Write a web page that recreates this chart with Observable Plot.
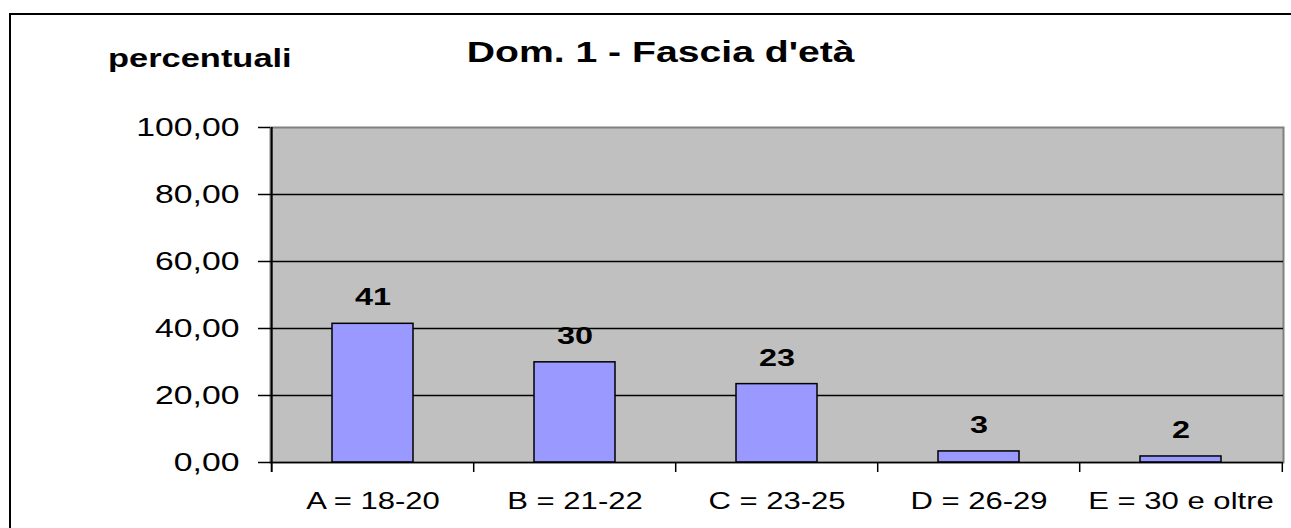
<!DOCTYPE html>
<html><head><meta charset="utf-8">
<script src="https://cdn.jsdelivr.net/npm/d3@7"></script>
<script src="https://cdn.jsdelivr.net/npm/@observablehq/plot@0.6"></script>
<style>
html,body{margin:0;padding:0;background:#fff;}
#wrap{position:relative;width:1291px;height:528px;overflow:hidden;font-family:"Liberation Sans",Arial,sans-serif;}
#frame{position:absolute;left:9px;top:13px;width:1400px;height:700px;border:2px solid #000;box-sizing:border-box;pointer-events:none;}
#chart{position:absolute;left:0;top:0;}
.t{position:absolute;line-height:1;white-space:nowrap;font-weight:bold;color:#000;}
</style></head><body>
<div id="wrap">
 <div id="chart"></div>
 <div id="frame"></div>
 <div class="t" id="title" style="left:0;width:1321px;top:38px;font-size:29px;text-align:center"><span style="display:inline-block;transform:scaleX(1.35);transform-origin:center">Dom. 1 - Fascia d'età</span></div>
 <div class="t" id="ylab" style="left:108px;top:46px;font-size:25.5px;transform:scaleX(1.35);transform-origin:left center">percentuali</div>
</div>
<script>
const categories = ["A = 18-20", "B = 21-22", "C = 23-25", "D = 26-29", "E = 30 e oltre"];
const percentages = [41.4, 29.9, 23.4, 3.3, 1.8];
const valueLabels = percentages.map(v => String(Math.round(v)));
const yTicks = [0, 20, 40, 60, 80, 100];
const gridValues = [20, 40, 60, 80];
const data = categories.map((c, i) => ({category: c, value: percentages[i], label: valueLabels[i]}));

const W = 1291, H = 528, mL = 270, mR = 8, mT = 127, mB = 66;
const step = (W - mL - mR) / categories.length;
const fmt = d => d.toFixed(2).replace(".", ",");

const plot = Plot.plot({
  width: W, height: H, marginLeft: mL, marginRight: mR, marginTop: mT, marginBottom: mB,
  style: {fontFamily: '"Liberation Sans", Arial, sans-serif', color: "#000", background: "none", overflow: "visible"},
  x: {domain: categories, type: "band", paddingInner: 0.6, paddingOuter: 0.3, label: null},
  y: {domain: [0, 100], label: null},
  marks: [
    Plot.frame({fill: "#C0C0C0", stroke: "#808080", strokeWidth: 2}),
    Plot.ruleY(gridValues, {stroke: "#000", strokeWidth: 1.5}),
    Plot.barY(data, {x: "category", y: "value", fill: "#9999FF", stroke: "#000", strokeWidth: 1.5}),
    Plot.ruleY([0], {stroke: "#000", strokeWidth: 1.5}),
    Plot.ruleX([categories[0]], {x: d => d, dx: -step / 2, stroke: "#000", strokeWidth: 2, insetBottom: -10}),
    Plot.ruleX(categories.slice(1), {x: d => d, y1: () => 0, y2: () => 0, dx: -step / 2, insetBottom: -10, stroke: "#000", strokeWidth: 1.5}),
    Plot.ruleX([categories[categories.length - 1]], {x: d => d, y1: () => 0, y2: () => 0, dx: step / 2, insetBottom: -10, stroke: "#000", strokeWidth: 1.5}),
    Plot.text(data, {x: "category", y: "value", text: "label", dy: -26, fontSize: 24, fontWeight: "bold", fill: "#000"}),
    Plot.axisY({ticks: yTicks, tickSize: 12, tickPadding: 19, tickFormat: fmt, fontSize: 25, strokeWidth: 1.5, label: null}),
    Plot.axisX({tickSize: 0, tickPadding: 30, fontSize: 23, label: null})
  ]
});
plot.querySelectorAll("text").forEach(t => {
  const tr = t.getAttribute("transform");
  if (tr) t.setAttribute("transform", tr + " scale(1.35,1)");
});
document.getElementById("chart").appendChild(plot);
</script>
</body></html>
